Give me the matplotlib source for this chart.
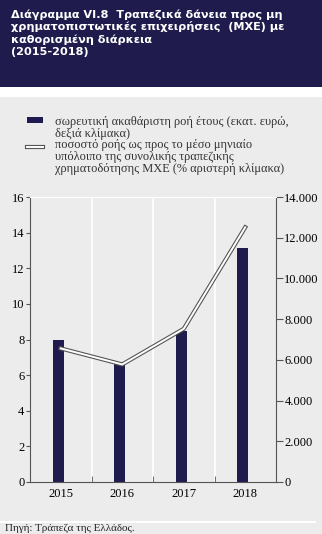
import matplotlib
matplotlib.use("Agg")
import matplotlib.pyplot as plt
from matplotlib.patches import Rectangle
from matplotlib.lines import Line2D
import numpy as np

years = ["2015", "2016", "2017", "2018"]
flow_mn = [7000, 5900, 7400, 11500]      # right axis, εκατ. ευρώ
share_pct = [7.5, 6.6, 8.6, 14.3]        # left axis, %

navy = "#1f1c4d"
panel = "#ececec"
axis_col = "#555555"
serif = "Liberation Serif"

fig = plt.figure(figsize=(3.22, 5.34), dpi=100)
fig.patch.set_facecolor("white")

# grey panel + navy header
fig.patches.append(Rectangle((0, 0), 1, 1 - 97 / 534, transform=fig.transFigure,
                             facecolor=panel, edgecolor="none", zorder=-2))
fig.patches.append(Rectangle((0, 1 - 87 / 534), 1, 87 / 534, transform=fig.transFigure,
                             facecolor=navy, edgecolor="none", zorder=-2))
fig.text(11 / 322, 1 - 9 / 534,
         "Διάγραμμα VI.8  Τραπεζικά δάνεια προς μη\n"
         "χρηματοπιστωτικές επιχειρήσεις  (ΜΧΕ) με\n"
         "καθορισμένη διάρκεια\n(2015-2018)",
         color="white", fontsize=8.1, fontweight="bold", family="DejaVu Sans",
         va="top", ha="left", linespacing=1.22)

ax = fig.add_axes([30 / 322, 52 / 534, 246 / 322, 285 / 534])
x = np.arange(len(years))

ax2 = ax.twinx()
ax2.set_ylim(0, 14000)
ax2.set_yticks(range(0, 14001, 2000))
ax2.set_yticklabels(["0" if t == 0 else f"{t:,}".replace(",", ".") for t in range(0, 14001, 2000)],
                    family=serif, fontsize=9)
ax2.tick_params(axis="y", length=5, color=axis_col, pad=1)
ax2.spines["right"].set_color(axis_col)
for s in ["left", "top", "bottom"]:
    ax2.spines[s].set_visible(False)
ax2.bar(x - 0.04, flow_mn, width=0.18, color=navy, zorder=2)
ax2.patch.set_visible(False)

ax.set_zorder(ax2.get_zorder() + 1)
ax.patch.set_visible(False)
ax.set_xlim(-0.5, 3.5)
ax.set_ylim(0, 16)
ax.set_yticks(range(0, 17, 2))
for v in [0.5, 1.5, 2.5]:
    ax.axvline(v, color="white", lw=1.2, zorder=1)
ax.set_xticks(x)
ax.set_xticklabels(years, family=serif, fontsize=9)
ax.set_xticks([0.5, 1.5, 2.5], minor=True)
ax.tick_params(axis="x", which="major", length=0, pad=4)
ax.tick_params(axis="x", which="minor", length=4, direction="in", color=axis_col)
ax.tick_params(axis="y", length=3, color=axis_col, labelsize=9, pad=1)
for lab in ax.get_yticklabels():
    lab.set_family(serif)
for s in ["left", "bottom"]:
    ax.spines[s].set_color(axis_col)
ax.spines["top"].set_color("white")
ax.spines["right"].set_visible(False)
ax.plot(x, share_pct, color="#555555", lw=3.0, solid_joinstyle="miter", zorder=3)
ax.plot(x, share_pct, color="white", lw=1.4, solid_joinstyle="miter", zorder=4)

# legend drawn by hand
fig.patches.append(Rectangle((27 / 322, 1 - 123 / 534), 16 / 322, 6 / 534,
                             transform=fig.transFigure, facecolor=navy, edgecolor="none"))
fig.lines.append(Line2D([27 / 322, 43 / 322], [1 - 147 / 534] * 2, transform=fig.transFigure,
                        color="#555555", lw=3.0))
fig.lines.append(Line2D([27 / 322, 43 / 322], [1 - 147 / 534] * 2, transform=fig.transFigure,
                        color="white", lw=1.4))
fig.text(55 / 322, 1 - 116 / 534, "σωρευτική ακαθάριστη ροή έτους (εκατ. ευρώ,\nδεξιά κλίμακα)",
         family=serif, fontsize=8.9, color="#333333", va="top", linespacing=1.0)
fig.text(55 / 322, 1 - 139 / 534,
         "ποσοστό ροής ως προς το μέσο μηνιαίο\nυπόλοιπο της συνολικής τραπεζικής\n"
         "χρηματοδότησης ΜΧΕ (% αριστερή κλίμακα)",
         family=serif, fontsize=8.9, color="#333333", va="top", linespacing=1.0)

fig.lines.append(Line2D([0, 315 / 322], [1 - 522 / 534] * 2, transform=fig.transFigure,
                        color="white", lw=1.5))
fig.text(5 / 322, 1 - 524 / 534, "Πηγή: Τράπεζα της Ελλάδος.", family=serif,
         fontsize=8, color="#222222", va="top")

fig.savefig("out.png", dpi=100)
